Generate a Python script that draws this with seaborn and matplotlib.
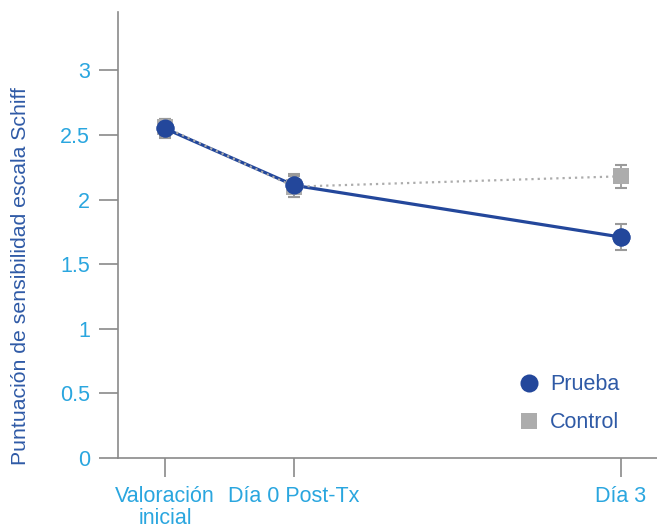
import matplotlib
matplotlib.use("Agg")
import matplotlib.pyplot as plt
import seaborn as sns
import pandas as pd
import numpy as np
from matplotlib.lines import Line2D

categories = ["Valoración\ninicial", "Día 0 Post-Tx", "Día 3"]
x_pos = [0.0, 1.0, 3.53]
prueba = [2.55, 2.11, 1.71]
prueba_err = [0.07, 0.09, 0.10]
control = [2.56, 2.10, 2.18]
control_err = [0.065, 0.08, 0.09]
y_ticks = [0, 0.5, 1, 1.5, 2, 2.5, 3]
y_tick_labels = ["0", "0.5", "1", "1.5", "2", "2.5", "3"]

sns.set_theme(style="white")
plt.rcParams["font.family"] = ["Liberation Sans", "DejaVu Sans"]

navy = "#23479b"
gray = "#acacac"
tick_blue = "#2aa6df"
label_blue = "#2f5aa6"
axis_gray = "#8a8a8a"

df = pd.DataFrame({
    "x": x_pos * 2,
    "y": prueba + control,
    "grupo": ["Prueba"] * 3 + ["Control"] * 3,
})

fig = plt.figure(figsize=(6.57, 5.30), dpi=100)
ax = fig.add_axes([0.1796, 0.1358, 0.8204, 0.8412])

# error bars
ax.errorbar(x_pos, control, yerr=control_err, fmt="none", ecolor="#9a9a9a",
            elinewidth=1.3, capsize=4.5, capthick=1.5, zorder=2)
ax.errorbar(x_pos, prueba, yerr=prueba_err, fmt="none", ecolor="#9a9a9a",
            elinewidth=1.3, capsize=4.5, capthick=1.5, zorder=2)

sns.lineplot(data=df[df.grupo == "Prueba"], x="x", y="y", ax=ax, color=navy,
             linewidth=2.3, marker="o", markersize=13, markeredgewidth=0,
             zorder=3, legend=False)
sns.lineplot(data=df[df.grupo == "Control"], x="x", y="y", ax=ax, color=gray,
             linestyle=(0, (1, 1.8)), linewidth=1.6, marker="s", markersize=11.5,
             markeredgewidth=0, zorder=4, legend=False)
# redraw prueba markers on top
ax.plot(x_pos, prueba, linestyle="none", marker="o", markersize=13,
        color=navy, markeredgewidth=0, zorder=5)

ax.set_xlim(-0.364, 3.81)
ax.set_ylim(0, 3.45)
ax.set_xticks(x_pos)
ax.set_xticklabels(categories)
ax.set_yticks(y_ticks)
ax.set_yticklabels(y_tick_labels)
ax.set_xlabel("")
ax.set_ylabel("Puntuación de sensibilidad escala Schiff", color=label_blue,
              fontsize=15.3)
ax.yaxis.set_label_coords(-0.163, 0.408)

for s in ["top", "right"]:
    ax.spines[s].set_visible(False)
for s in ["left", "bottom"]:
    ax.spines[s].set_color(axis_gray)
    ax.spines[s].set_linewidth(1.2)

ax.tick_params(axis="both", which="major", bottom=True, left=True,
               direction="out", length=14, width=1.2,
               color=axis_gray, labelsize=15.5, labelcolor=tick_blue)
ax.tick_params(axis="y", pad=6)
ax.tick_params(axis="x", pad=6)
for t in ax.get_xticklabels():
    t.set_linespacing(1.1)
ax.grid(False)

handles = [
    Line2D([], [], linestyle="none", marker="o", markersize=13, color=navy,
           markeredgewidth=0),
    Line2D([], [], linestyle="none", marker="s", markersize=11.5, color=gray,
           markeredgewidth=0),
]
leg = ax.legend(handles, ["Prueba", "Control"], loc="lower right",
                bbox_to_anchor=(0.966, 0.012), frameon=False, fontsize=15.5,
                handletextpad=0.4, labelspacing=0.8, handlelength=1.2)
for t in leg.get_texts():
    t.set_color(label_blue)

fig.savefig("out.png", dpi=100)
